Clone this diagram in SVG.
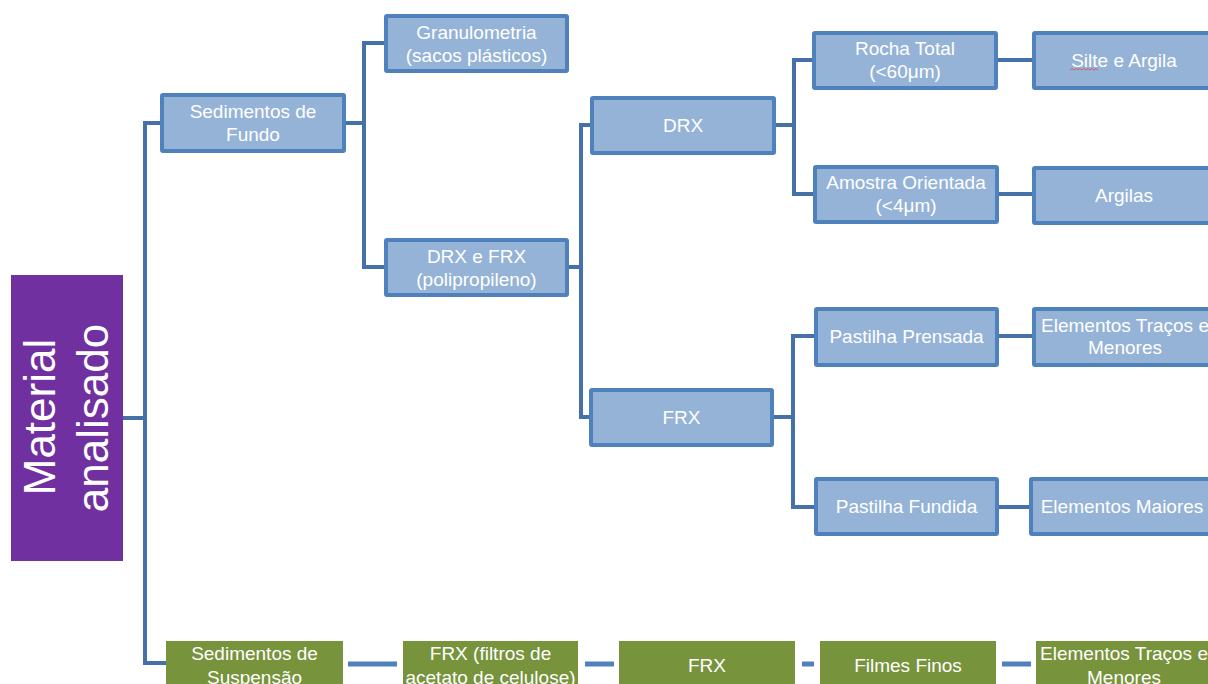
<svg xmlns="http://www.w3.org/2000/svg" width="1208" height="684" viewBox="0 0 1208 684">
<style>
.b{fill:#95B3D7;stroke:#4F81BD;stroke-width:4}
.g{fill:#77933C}
.t{font-family:"Liberation Sans",Arial,sans-serif;font-size:19px;fill:#ffffff;text-anchor:middle}
.big{font-family:"Liberation Sans",Arial,sans-serif;font-size:44px;fill:#ffffff;text-anchor:middle}
.c{fill:none;stroke:#4571A8;stroke-width:4}
.d{fill:none;stroke:#4F81BD;stroke-width:5}
</style>
<rect width="1208" height="684" fill="#ffffff"/>
<g id="connectors">
<path class="c" d="M123,418 H145"/>
<path class="c" d="M162,123 H145 V663 H166"/>
<path class="c" d="M346,123 H364"/>
<path class="c" d="M386,43 H364 V267 H386"/>
<path class="c" d="M569,267 H581"/>
<path class="c" d="M592,125 H581 V417 H591"/>
<path class="c" d="M776,125 H794"/>
<path class="c" d="M814,60 H794 V194 H815"/>
<path class="c" d="M774,417 H793"/>
<path class="c" d="M816,336 H793 V507 H816"/>
<path class="c" d="M998,60 H1034"/>
<path class="c" d="M999,194 H1034"/>
<path class="c" d="M999,336 H1034"/>
<path class="c" d="M999,507 H1031"/>
<path class="d" d="M348,664 H397"/>
<path class="d" d="M585,664 H614"/>
<path class="d" d="M802,664 H814"/>
<path class="d" d="M1002,664 H1031"/>
</g>
<g id="material">
<rect x="11" y="275" width="112" height="286" fill="#7030A0"/>
<text class="big" transform="translate(55,417) rotate(-90)">Material</text>
<text class="big" transform="translate(108,418) rotate(-90)">analisado</text>
</g>
<g id="sed-fundo">
<rect class="b" x="162" y="95" width="182" height="56" rx="1"/>
<text class="t" x="253" y="118">Sedimentos de</text>
<text class="t" x="253" y="141">Fundo</text>
</g>
<g id="granulometria">
<rect class="b" x="386" y="16" width="181" height="55" rx="1"/>
<text class="t" x="476.5" y="38.5">Granulometria</text>
<text class="t" x="476.5" y="61.5">(sacos plásticos)</text>
</g>
<g id="drx-frx">
<rect class="b" x="386" y="240" width="181" height="55" rx="1"/>
<text class="t" x="476.5" y="262.5">DRX e FRX</text>
<text class="t" x="476.5" y="285.5">(polipropileno)</text>
</g>
<g id="drx">
<rect class="b" x="592" y="98" width="182" height="55" rx="1"/>
<text class="t" x="683" y="132">DRX</text>
</g>
<g id="frx">
<rect class="b" x="591" y="390" width="181" height="55" rx="1"/>
<text class="t" x="681.5" y="424">FRX</text>
</g>
<g id="rocha">
<rect class="b" x="814" y="33" width="182" height="55" rx="1"/>
<text class="t" x="905" y="55">Rocha Total</text>
<text class="t" x="905" y="78">(&lt;60μm)</text>
</g>
<g id="amostra">
<rect class="b" x="815" y="167" width="182" height="55" rx="1"/>
<text class="t" x="906" y="188.5">Amostra Orientada</text>
<text class="t" x="906" y="212">(&lt;4μm)</text>
</g>
<g id="prensada">
<rect class="b" x="816" y="309" width="181" height="56" rx="1"/>
<text class="t" x="906.5" y="343">Pastilha Prensada</text>
</g>
<g id="fundida">
<rect class="b" x="816" y="479" width="181" height="55" rx="1"/>
<text class="t" x="906.5" y="513">Pastilha Fundida</text>
</g>
<g id="silte">
<rect class="b" x="1034" y="33" width="182" height="55" rx="1"/>
<text class="t" x="1124" y="67">Silte e Argila</text>
<path d="M1070,70 l2,-1.5 l2,1.5 l2,-1.5 l2,1.5 l2,-1.5 l2,1.5 l2,-1.5 l2,1.5 l2,-1.5 l2,1.5 l2,-1.5 l2,1.5 l2,-1.5 l2,1.5" fill="none" stroke="#E04848" stroke-width="0.8"/>
</g>
<g id="argilas">
<rect class="b" x="1034" y="168" width="182" height="55" rx="1"/>
<text class="t" x="1124" y="201.5">Argilas</text>
</g>
<g id="tracos">
<rect class="b" x="1034" y="309" width="182" height="56" rx="1"/>
<text class="t" x="1125" y="332">Elementos Traços e</text>
<text class="t" x="1125" y="354">Menores</text>
</g>
<g id="maiores">
<rect class="b" x="1031" y="479" width="182" height="55" rx="1"/>
<text class="t" x="1122" y="513">Elementos Maiores</text>
</g>
<g id="sed-suspensao">
<rect class="g" x="166" y="641" width="177" height="59"/>
<text class="t" x="254.5" y="660">Sedimentos de</text>
<text class="t" x="254.5" y="684">Suspensão</text>
</g>
<g id="frx-filtros">
<rect class="g" x="403" y="641" width="175" height="59"/>
<text class="t" x="490.5" y="660">FRX (filtros de</text>
<text class="t" x="490.5" y="684">acetato de celulose)</text>
</g>
<g id="frx-2">
<rect class="g" x="619" y="641" width="176" height="59"/>
<text class="t" x="707" y="672">FRX</text>
</g>
<g id="filmes">
<rect class="g" x="820" y="641" width="176" height="59"/>
<text class="t" x="908" y="672">Filmes Finos</text>
</g>
<g id="tracos-2">
<rect class="g" x="1036" y="641" width="186" height="59"/>
<text class="t" x="1124" y="660">Elementos Traços e</text>
<text class="t" x="1124" y="684">Menores</text>
</g>
</svg>
